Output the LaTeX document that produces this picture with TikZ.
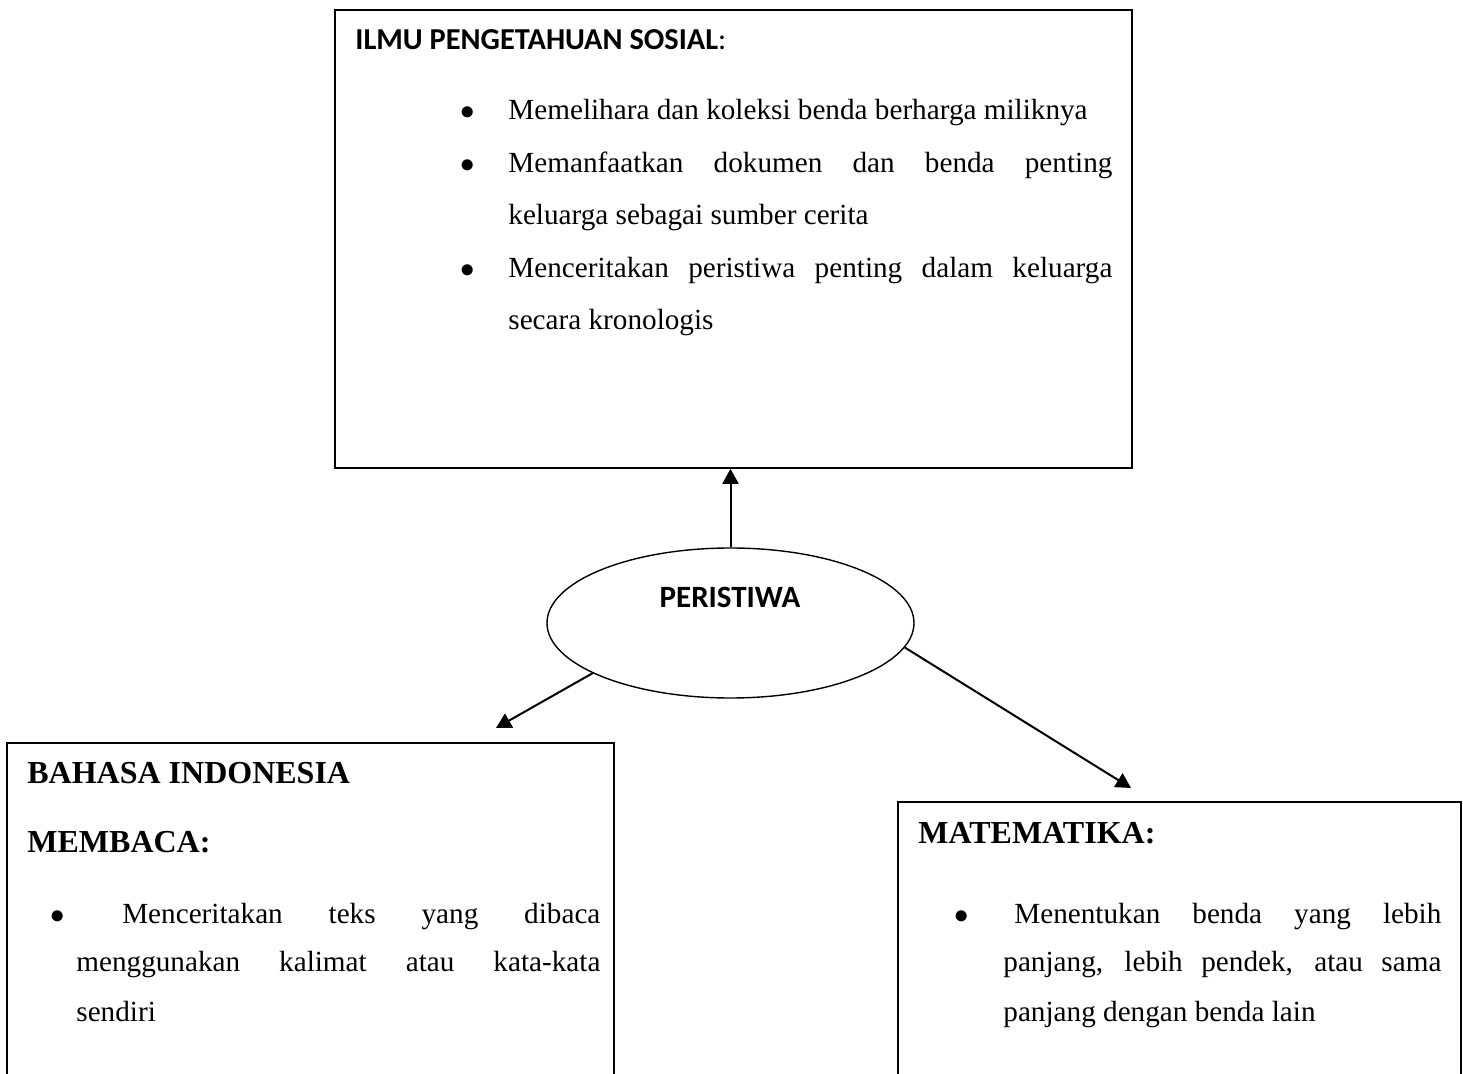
\documentclass[tikz,border=0pt]{standalone}
\usepackage{fontspec}
\setmainfont{Liberation Serif}
\newfontfamily\calibri{Carlito}
\usetikzlibrary{shapes.geometric,arrows.meta}
\hyphenpenalty=10000
\exhyphenpenalty=10000
\hbadness=10000
\newlength\poinind
\newcommand{\poin}[1]{\noindent\hangindent=\poinind\hangafter=1\makebox[\poinind][l]{$\bullet$}#1\par}
\tikzset{
  kotak/.style={draw, line width=0.8pt, inner sep=0pt},
  isi/.style={anchor=base west, inner sep=0pt, align=justify, font=\fontsize{14.6}{26.2}\selectfont},
  judul/.style={anchor=base west, inner sep=0pt, font=\fontsize{16}{18}\selectfont\bfseries},
  panah/.style={-{Triangle[length=7.5pt,width=8pt]}, line width=1pt}
}
\begin{document}
\begin{tikzpicture}[x=0.5pt,y=-0.5pt]
\useasboundingbox (0,0) rectangle (1463,1074);
\clip (0,0) rectangle (1463,1074);
\node[kotak, minimum width=398.5pt, minimum height=229pt] (IPS) at (733.5,239) {};
\node[anchor=base west, inner sep=0pt, font=\calibri\fontsize{15.2}{17}\selectfont] (IPS-judul) at (355,50) {\textbf{ILMU PENGETAHUAN SOSIAL}:};
\node[isi, text width=326pt] (IPS-isi) at (460,120) {\setlength\poinind{24pt}%
  \poin{Memelihara dan koleksi benda berharga miliknya}%
  \poin{Memanfaatkan dokumen dan benda penting\linebreak keluarga sebagai sumber cerita}%
  \poin{Menceritakan peristiwa penting dalam keluarga\linebreak secara kronologis}};

\node[draw, ellipse, line width=0.7pt, minimum width=183.5pt, minimum height=75pt, inner sep=0pt] (PER) at (730.5,623) {};
\node[anchor=base, inner sep=0pt, font=\calibri\bfseries\fontsize{15.5}{18}\selectfont] (PER-teks) at (730,608) {PERISTIWA};

\node[kotak, minimum width=303.5pt, minimum height=178.5pt] (BIN) at (310.5,921.5) {};
\node[judul] (BIN-judul) at (27,784) {BAHASA INDONESIA};
\node[judul] (BIN-sub) at (27,853) {MEMBACA:};
\node[isi, text width=275pt, font=\fontsize{14.6}{24.5}\selectfont] (BIN-isi) at (50,923) {\setlength\poinind{13pt}%
  \poin{\ Menceritakan teks yang dibaca\linebreak menggunakan kalimat atau kata-kata\linebreak sendiri}};

\node[kotak, minimum width=281.5pt, minimum height=149pt] (MAT) at (1179.5,951) {};
\node[judul] (MAT-judul) at (918,843) {MATEMATIKA:};
\node[isi, text width=243.5pt, font=\fontsize{14.6}{24.5}\selectfont] (MAT-isi) at (954,923) {\setlength\poinind{24.5pt}%
  \poin{\hspace{5.5pt}Menentukan benda yang lebih\linebreak panjang, lebih pendek, atau sama\linebreak panjang dengan benda lain}};

\coordinate (BIN-masuk) at (496,728);
\coordinate (MAT-masuk) at (1131,788);
\draw[panah] (PER.north) -- (PER.north |- IPS.south);
\draw[panah] (PER.200) -- (BIN-masuk);
\draw[panah] (PER.352) -- (MAT-masuk);
\end{tikzpicture}
\end{document}
